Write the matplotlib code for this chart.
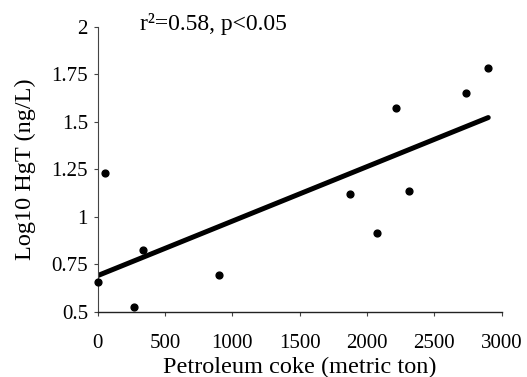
import matplotlib
matplotlib.use("Agg")
import matplotlib.pyplot as plt

coke = [0, 54, 272, 339, 903, 1873, 2074, 2215, 2311, 2734, 2898]
log_hgt = [0.658, 1.232, 0.526, 0.823, 0.692, 1.119, 0.913, 1.570, 1.134, 1.649, 1.783]
fit_x = [0, 2900]
fit_y = [0.69, 1.522]
xticks = [0, 500, 1000, 1500, 2000, 2500, 3000]
yticks = [0.5, 0.75, 1.0, 1.25, 1.5, 1.75, 2.0]
yticklabels = ["0.5", "0.75", "1", "1.25", "1.5", "1.75", "2"]

plt.rcParams['font.family'] = ['Liberation Serif', 'DejaVu Serif']

fig = plt.figure(figsize=(5.27, 3.77), dpi=100)
ax = fig.add_axes([0.1854, 0.1732, 0.952 - 0.1854, 0.929 - 0.1732])

ax.plot(fit_x, fit_y, color='black', lw=3.6, solid_capstyle='round', zorder=2)
ax.scatter(coke, log_hgt, s=24, color='black', zorder=3, clip_on=False)

ax.set_xlim(0, 3000)
ax.set_ylim(0.5, 2.0)
ax.set_xticks(xticks)
ax.set_xticklabels([str(v) for v in xticks])
ax.set_yticks(yticks)
ax.set_yticklabels(yticklabels)

ax.spines['top'].set_visible(False)
ax.spines['right'].set_visible(False)
ax.spines['left'].set_linestyle((0, (1, 1)))
ax.spines['left'].set_color('#444444')
ax.spines['left'].set_linewidth(0.8)
ax.spines['bottom'].set_linewidth(1.0)
ax.spines['bottom'].set_color('#222222')
ax.tick_params(axis='both', length=3, width=0.8, labelsize=15, direction='out', color='#444444')
ax.tick_params(axis='y', pad=4)
ax.tick_params(axis='x', pad=13)

ax.set_xlabel("Petroleum coke (metric ton)", fontsize=17.5, labelpad=3)
ax.set_ylabel("Log10 HgT (ng/L)", fontsize=17.5, labelpad=11)
fig.text(140 / 527, 1 - 24 / 377, "r²=0.58, p<0.05", fontsize=17, va='center', ha='left')

fig.savefig("out.png", dpi=100)
